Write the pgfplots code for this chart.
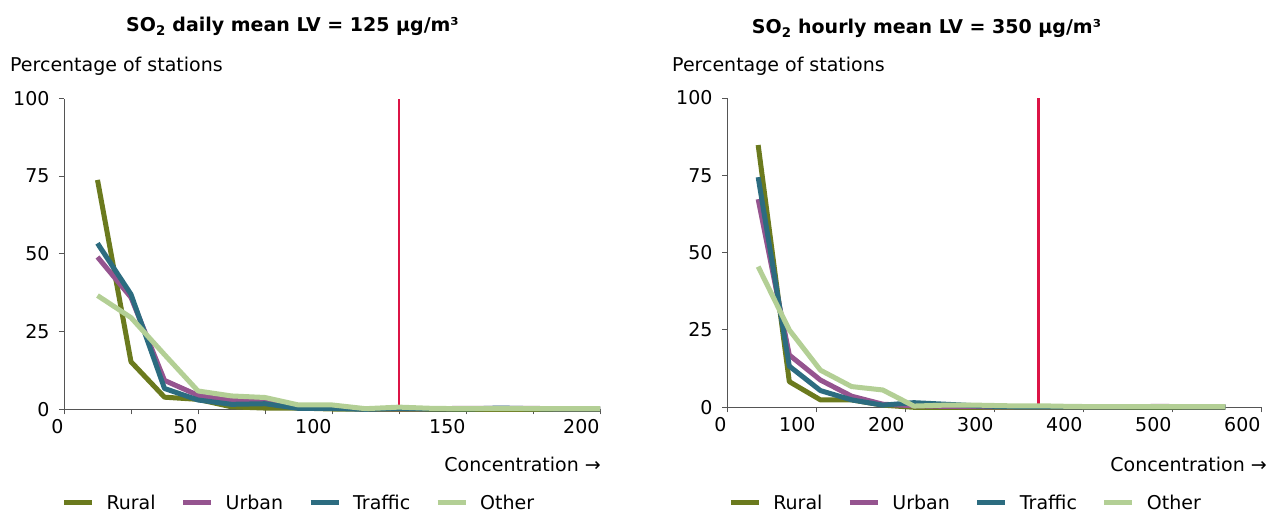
\documentclass[border=0pt]{standalone}
\usepackage{pgfplots}
\pgfplotsset{compat=1.18}
\usepackage{pgfplotstable}
\usepackage{fontspec}
\setmainfont{DejaVu Sans}
\definecolor{cRural}{HTML}{6B7A1E}
\definecolor{cUrban}{HTML}{95548F}
\definecolor{cTraffic}{HTML}{2C6C80}
\definecolor{cOther}{HTML}{B3CF95}
\definecolor{cLV}{HTML}{DC1446}
\definecolor{cAxis}{HTML}{555555}

\pgfplotstableread{
x rural urban traffic other
12.5 73.8 49.0 53.4 36.6
25 15.3 36.0 37.0 29.5
37.5 3.9 9.3 6.7 17.6
50 3.2 4.5 3.0 5.9
62.5 0.8 2.9 1.6 4.3
75 0.4 2.5 1.8 3.8
87.5 0.4 0.6 0.3 1.4
100 0.1 0.5 0.3 1.4
112.5 0 0.1 0 0.2
125 0 0.1 0.3 0.7
137.5 0 0.2 0.1 0.3
150 0 0.3 0.1 0.2
162.5 0 0.3 0.4 0.2
175 0 0.3 0.2 0.2
187.5 0 0.1 0.1 0.2
200 0 0.1 0.1 0.2
}\dailytab

\pgfplotstableread{
x rural urban traffic other
35 84.8 67.3 74.4 45.5
70 8.3 16.9 13.3 25.0
105 2.4 8.8 5.4 12.0
140 2.4 3.6 2.4 6.7
175 0.7 1.0 0.7 5.6
210 0 0.5 1.5 0.4
245 0 0.3 1.0 0.7
280 0 0.2 0.5 0.7
315 0 0.1 0.2 0.5
350 0 0.1 0.1 0.5
385 0 0.1 0.1 0.3
420 0 0.1 0.1 0.2
455 0 0.2 0.1 0.2
490 0 0.3 0.1 0.2
525 0 0.1 0.1 0.2
560 0 0.1 0.1 0.2
}\hourlytab

\newcommand\fs{\fontsize{19}{22}\selectfont}

\pgfplotsset{
  common/.style={
    scale only axis,
    anchor=south west,
    axis lines=left,
    axis line style={-, draw=cAxis, line width=1pt},
    tick style={draw=cAxis, line width=1pt},
    tick align=outside,
    major tick length=5pt,
    minor tick length=5pt,
    ymin=0, ymax=100,
    ytick={0,25,50,75,100},
    clip=false,
    tick label style={font=\fs},
    /pgf/number format/assume math mode=true,
    yticklabel style={xshift=-6pt},
    xticklabel style={anchor=north east, xshift=3pt, yshift=-2pt},
    legend columns=4,
    legend image code/.code={\draw[##1, line width=5pt] (0pt,0pt) -- (28pt,0pt);},
    legend style={draw=none, fill=none, inner sep=0pt, anchor=west,
      font=\fs,
      nodes={inner sep=0pt},
      /tikz/every odd column/.append style={column sep=12pt},
      /tikz/every even column/.append style={column sep=25pt}},
  },
  ser/.style={line width=5pt, line join=round},
}

\begin{document}
\begin{tikzpicture}[x=1pt,y=1pt]
\useasboundingbox (0,0) rectangle (1268,512);

% ---------- left ----------
\begin{axis}[common,
  at={(64pt,102.7pt)}, width=536pt, height=310.8pt,
  xmin=0, xmax=200,
  xtick={0,50,100,150,200},
  minor xtick={25,75,125,175},
  legend style={at={(-0.005,-0.301)}},
]
\addplot[cLV, line width=2.5pt, forget plot] coordinates {(125,0) (125,100)};
\addplot[ser, cRural] table[x=x,y=rural] {\dailytab};
\addplot[ser, cUrban] table[x=x,y=urban] {\dailytab};
\addplot[ser, cTraffic] table[x=x,y=traffic] {\dailytab};
\addplot[ser, cOther] table[x=x,y=other] {\dailytab};
\legend{Rural,Urban,Traffic,Other}
\end{axis}

% ---------- right ----------
\begin{axis}[common,
  at={(727pt,104.7pt)}, width=534pt, height=309.3pt,
  xmin=0, xmax=600,
  xtick={0,100,...,600},
  legend style={at={(0.002,-0.309)}},
]
\addplot[cLV, line width=2.5pt, forget plot] coordinates {(350,0) (350,100)};
\addplot[ser, cRural] table[x=x,y=rural] {\hourlytab};
\addplot[ser, cUrban] table[x=x,y=urban] {\hourlytab};
\addplot[ser, cTraffic] table[x=x,y=traffic] {\hourlytab};
\addplot[ser, cOther] table[x=x,y=other] {\hourlytab};
\legend{Rural,Urban,Traffic,Other}
\end{axis}

% ---------- texts ----------
\node[anchor=base, font=\fs\bfseries] at (292.5,480) {SO\textsubscript{2} daily mean LV = 125 µg/m³};
\node[anchor=base, font=\fs\bfseries] at (926.5,478) {SO\textsubscript{2} hourly mean LV = 350 µg/m³};
\node[anchor=base west, inner sep=0pt, font=\fs] at (10,440) {Percentage of stations};
\node[anchor=base west, inner sep=0pt, font=\fs] at (672,440) {Percentage of stations};
\node[anchor=base east, inner sep=0pt, font=\fs] at (601,41) {Concentration →};
\node[anchor=base east, inner sep=0pt, font=\fs] at (1267,41) {Concentration →};
\end{tikzpicture}
\end{document}
